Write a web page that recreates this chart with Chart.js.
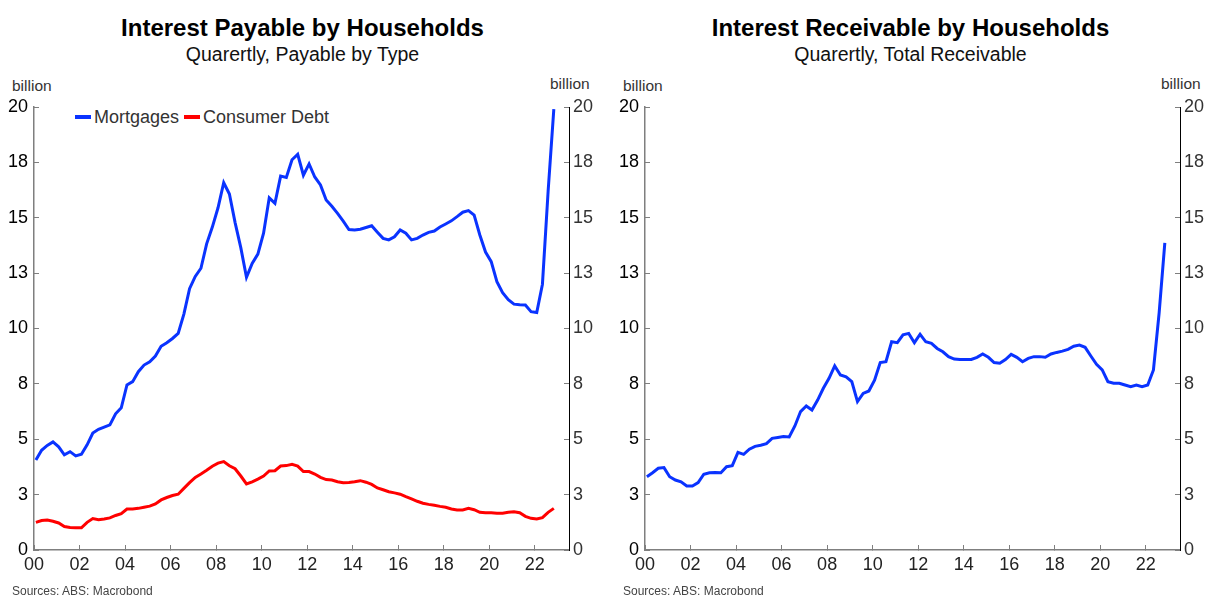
<!DOCTYPE html>
<html lang="en">
<head>
  <meta charset="UTF-8">
  <title>Household Interest Payable and Receivable</title>
  <script src="https://cdn.jsdelivr.net/npm/chart.js"></script>
  <style>
    body {
      margin: 0;
      width: 1210px;
      height: 596px;
      overflow: hidden;
      background: #fff;
      font-family: "Liberation Sans", Arial, sans-serif;
    }
    .panel { position: absolute; top: 0; height: 596px; }
    .title {
      position: absolute; left: 0; right: 0; top: 16px;
      text-align: center; font-weight: bold; font-size: 24px; line-height: 1; color: #000;
    }
    .subtitle {
      position: absolute; left: 0; right: 0; top: 45px;
      text-align: center; font-size: 19.5px; line-height: 1; color: #111;
    }
    .unit { position: absolute; font-size: 15.5px; line-height: 1; color: #333; }
    .source { position: absolute; left: 12px; top: 585px; font-size: 12px; line-height: 1; color: #444; }
    .legend {
      position: absolute; top: 108px; left: 75px;
      font-size: 18px; line-height: 1; color: #333;
      display: flex; align-items: center;
    }
    .legend .sw { display: inline-block; width: 16px; height: 4px; margin-right: 3px; }
    .legend .item { display: flex; align-items: center; margin-right: 5px; }
    canvas { position: absolute; left: 0; top: 80px; }
  </style>
</head>
<body>
  <div class="panel" style="left:0; width:605px;">
    <div class="title">Interest Payable by Households</div>
    <div class="subtitle">Quarertly, Payable by Type</div>
    <div class="unit" style="left:12px; top:78px;">billion</div>
    <div class="unit" style="left:550px; top:76px;">billion</div>
    <div class="legend" id="legendPayable"></div>
    <canvas id="chartPayable" width="605" height="516"></canvas>
    <div class="source">Sources: ABS: Macrobond</div>
  </div>
  <div class="panel" style="left:611px; width:599px;">
    <div class="title">Interest Receivable by Households</div>
    <div class="subtitle">Quarertly, Total Receivable</div>
    <div class="unit" style="left:12px; top:78px;">billion</div>
    <div class="unit" style="left:550px; top:76px;">billion</div>
    <canvas id="chartReceivable" width="599" height="516"></canvas>
    <div class="source">Sources: ABS: Macrobond</div>
  </div>

  <script>
    // quarterly data, 2000 Q1 .. 2022 Q4, billions
    const firstYear = 2000;
    const mortgages = [
      4.06, 4.5, 4.72, 4.88, 4.66, 4.3, 4.44, 4.25, 4.32, 4.75, 5.28, 5.45,
      5.55, 5.65, 6.15, 6.42, 7.45, 7.6, 8.05, 8.35, 8.5, 8.76, 9.2, 9.36,
      9.55, 9.78, 10.65, 11.8, 12.35, 12.72, 13.82, 14.58, 15.45, 16.58, 16.07, 14.78,
      13.65, 12.31, 12.94, 13.36, 14.3, 15.9, 15.65, 16.88, 16.82, 17.62, 17.86, 16.92,
      17.43, 16.84, 16.48, 15.8, 15.52, 15.2, 14.85, 14.47, 14.45, 14.48, 14.56, 14.64,
      14.35, 14.07, 14.0, 14.14, 14.45, 14.3, 14.0, 14.07, 14.22, 14.34, 14.4, 14.58,
      14.72, 14.86, 15.05, 15.25, 15.32, 15.12, 14.22, 13.45, 13.02, 12.11, 11.62, 11.3,
      11.1, 11.07, 11.06, 10.76, 10.72, 12.0, 16.2, 19.9
    ];
    const consumerDebt = [
      1.25, 1.33, 1.35, 1.3, 1.22, 1.06, 1.02, 1.0, 1.0, 1.25, 1.42, 1.37,
      1.4, 1.45, 1.56, 1.64, 1.85, 1.85, 1.88, 1.93, 1.98, 2.08, 2.26, 2.37,
      2.46, 2.52, 2.78, 3.04, 3.28, 3.43, 3.6, 3.78, 3.92, 3.99, 3.8, 3.67,
      3.34, 2.98, 3.08, 3.2, 3.34, 3.57, 3.58, 3.79, 3.81, 3.87, 3.79, 3.54,
      3.54, 3.43, 3.28, 3.18, 3.16, 3.08, 3.04, 3.05, 3.08, 3.13, 3.06, 2.96,
      2.8, 2.72, 2.63, 2.58, 2.52, 2.41, 2.31, 2.2, 2.11, 2.06, 2.02, 1.97,
      1.93, 1.85, 1.81, 1.81, 1.88, 1.82, 1.7, 1.68, 1.68, 1.66, 1.66, 1.7,
      1.73, 1.68, 1.52, 1.43, 1.4, 1.46, 1.7, 1.88
    ];
    const receivable = [
      3.31, 3.49, 3.69, 3.72, 3.31, 3.16, 3.08, 2.89, 2.89, 3.04, 3.42, 3.49,
      3.5, 3.49, 3.76, 3.81, 4.41, 4.32, 4.55, 4.68, 4.73, 4.8, 5.04, 5.08,
      5.12, 5.1, 5.6, 6.25, 6.5, 6.32, 6.77, 7.3, 7.75, 8.31, 7.9, 7.82,
      7.6, 6.7, 7.07, 7.18, 7.67, 8.46, 8.5, 9.4, 9.36, 9.71, 9.78, 9.36,
      9.74, 9.4, 9.33, 9.1, 8.95, 8.73, 8.62, 8.6, 8.6, 8.6, 8.7, 8.85,
      8.7, 8.46, 8.43, 8.6, 8.83, 8.7, 8.5, 8.65, 8.73, 8.73, 8.7, 8.85,
      8.92, 8.98, 9.06, 9.2, 9.25, 9.15, 8.76, 8.38, 8.13, 7.6, 7.53, 7.53,
      7.45, 7.37, 7.45, 7.37, 7.45, 8.13, 10.7, 13.87
    ];

    const xTicks = [2000, 2002, 2004, 2006, 2008, 2010, 2012, 2014, 2016, 2018, 2020, 2022];
    const xTickLabels = ['00', '02', '04', '06', '08', '10', '12', '14', '16', '18', '20', '22'];
    const yTicks = [0, 2.5, 5, 7.5, 10, 12.5, 15, 17.5, 20];
    const yTickLabels = ['0', '3', '5', '8', '10', '13', '15', '18', '20'];

    const BLUE = '#0a33ff';
    const RED = '#ff0000';
    const AXIS_GREY = '#7f7f7f';
    const FONT = '"Liberation Sans", Arial, sans-serif';

    // x position of each quarter (first month of the quarter)
    const quarterX = mortgages.map((_, i) => firstYear + (3 * i + 1) / 12);
    const toPoints = vals => vals.map((v, i) => ({ x: quarterX[i], y: v }));

    function makeChart(canvasId, datasets, rightWidth) {
      const tickFont = { family: FONT, size: 18 };
      return new Chart(document.getElementById(canvasId), {
        type: 'line',
        data: { datasets: datasets },
        options: {
          responsive: false,
          animation: false,
          events: [],
          layout: { padding: { top: 27, left: 0, right: 0, bottom: 0 } },
          plugins: { legend: { display: false }, tooltip: { enabled: false } },
          elements: { point: { radius: 0 }, line: { tension: 0, borderWidth: 3 } },
          scales: {
            x: {
              type: 'linear',
              min: 2000,
              max: 2023.5,
              afterBuildTicks: s => { s.ticks = xTicks.map(v => ({ value: v })); },
              afterFit: s => { s.height = 46; },
              border: { color: AXIS_GREY, width: 1.5 },
              grid: { drawOnChartArea: false, tickLength: -5, color: AXIS_GREY },
              ticks: {
                autoSkip: false, maxRotation: 0, padding: 9,
                color: '#222', font: tickFont,
                callback: (v, i) => xTickLabels[i]
              }
            },
            y: {
              position: 'left',
              min: 0,
              max: 20,
              afterBuildTicks: s => { s.ticks = yTicks.map(v => ({ value: v })); },
              afterFit: s => { s.width = 34; },
              border: { color: AXIS_GREY, width: 1.5 },
              grid: { drawOnChartArea: false, tickLength: -5, color: AXIS_GREY },
              ticks: { padding: 11, color: '#000', font: tickFont, callback: (v, i) => yTickLabels[i] }
            },
            y2: {
              position: 'right',
              min: 0,
              max: 20,
              afterBuildTicks: s => { s.ticks = yTicks.map(v => ({ value: v })); },
              afterFit: s => { s.width = rightWidth; },
              border: { color: '#000', width: 1 },
              grid: { drawOnChartArea: false, tickLength: -5, color: AXIS_GREY },
              ticks: { padding: 9, color: '#333', font: tickFont, callback: (v, i) => yTickLabels[i] }
            }
          }
        }
      });
    }

    const payableSeries = [
      { label: 'Mortgages', data: toPoints(mortgages), borderColor: BLUE },
      { label: 'Consumer Debt', data: toPoints(consumerDebt), borderColor: RED }
    ];
    makeChart('chartPayable', payableSeries.map(s => ({ ...s, yAxisID: 'y', fill: false })), 36);

    makeChart('chartReceivable', [
      { label: 'Total Receivable', data: toPoints(receivable), borderColor: BLUE, yAxisID: 'y', fill: false }
    ], 30);

    // legend for the left panel
    const legend = document.getElementById('legendPayable');
    payableSeries.forEach(s => {
      const item = document.createElement('span');
      item.className = 'item';
      item.innerHTML = '<span class="sw" style="background:' + s.borderColor + '"></span>' + s.label;
      legend.appendChild(item);
    });
  </script>
</body>
</html>
